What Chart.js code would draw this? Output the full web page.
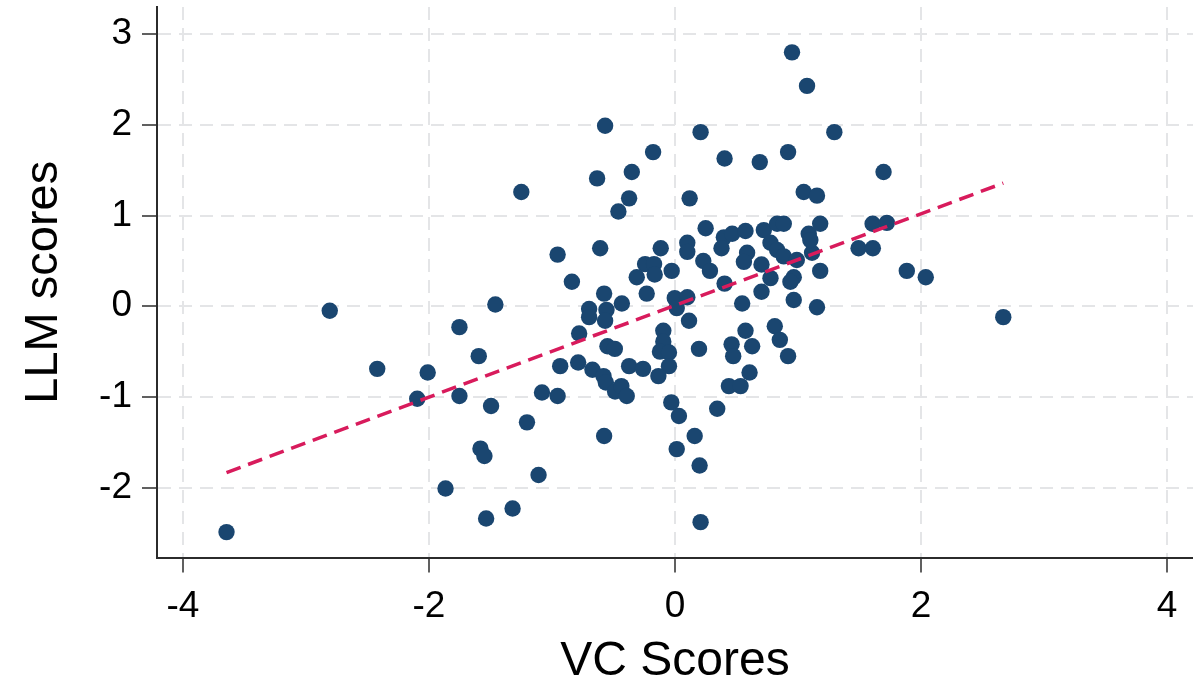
<!DOCTYPE html>
<html>
<head>
<meta charset="utf-8">
<script src="https://cdn.jsdelivr.net/npm/chart.js@4.4.1/dist/chart.umd.min.js"></script>
<style>
  html, body { margin: 0; padding: 0; background: #ffffff; }
  #wrap { width: 1193px; height: 686px; }
</style>
</head>
<body>
<div id="wrap"><canvas id="c" width="1193" height="686"></canvas></div>
<script>
const vcScores = [
  -3.645,-2.806,-2.42,-2.01,-2.095,-1.752,-1.752,-1.46,-1.595,-1.495,
  -1.203,-1.581,-1.549,-1.865,-1.535,-1.32,-1.109,-1.081,-0.954,-1.249,
  -0.954,-0.838,-0.779,-0.933,-0.787,-0.671,-0.581,-0.562,-0.487,-0.436,
  -0.392,-0.549,-0.489,-0.373,-0.26,-0.576,-0.698,-0.698,-0.557,-0.568,
  -0.576,-0.432,-0.23,-0.608,-0.568,-0.633,-0.351,-0.373,-0.46,-0.178,
  -0.243,-0.17,-0.165,-0.311,-0.116,-0.027,-0.095,-0.095,-0.122,-0.049,
  -0.049,-0.135,-0.002,0.10,0.014,0.114,-0.03,0.032,0.014,0.16,
  0.20,0.208,0.343,0.195,0.119,0.10,0.10,0.208,0.249,0.23,
  0.284,0.403,0.403,0.397,0.465,0.573,0.722,0.83,0.884,0.378,
  0.776,0.83,0.884,0.586,0.56,0.703,0.776,0.965,0.938,0.965,
  0.703,0.546,1.154,0.99,1.114,1.18,1.087,1.10,1.18,0.951,
  1.073,1.295,0.919,0.689,1.046,1.154,1.695,1.492,1.608,1.606,
  1.722,0.573,0.811,0.852,0.919,0.46,0.473,0.627,0.606,0.438,
  0.533,1.884,2.038,2.668
];
const llmScores = [
  -2.49,-0.05,-0.69,-0.73,-1.02,-0.23,-0.99,0.02,-0.55,-1.10,
  -1.28,-1.57,-1.65,-2.01,-2.34,-2.23,-1.86,-0.95,-0.99,1.26,
  0.57,0.27,-0.30,-0.66,-0.62,-0.70,-0.77,-0.84,-0.94,-0.88,
  -0.99,-0.44,-0.47,-0.66,-0.69,-1.43,-0.03,-0.12,-0.04,-0.16,
  0.14,0.03,0.14,0.64,1.99,1.41,1.48,1.19,1.045,1.70,
  0.465,0.465,0.35,0.32,0.64,0.39,-0.27,-0.39,-0.50,-0.51,
  -0.66,-0.77,0.09,0.10,-0.02,-0.16,-1.06,-1.21,-1.575,-1.43,
  -1.755,-2.38,-1.13,-0.47,1.19,0.70,0.60,1.92,0.86,0.50,
  0.39,0.25,1.63,0.76,0.80,0.83,0.84,0.91,0.91,0.64,
  0.70,0.62,0.55,0.59,0.49,0.46,0.31,0.32,0.27,0.07,
  0.16,0.03,-0.01,0.51,0.59,0.39,0.80,0.73,0.91,2.80,
  2.43,1.92,1.70,1.59,1.26,1.22,1.48,0.64,0.64,0.91,
  0.92,-0.27,-0.22,-0.37,-0.55,-0.42,-0.55,-0.44,-0.73,-0.88,
  -0.88,0.39,0.32,-0.12
];
const fitX = [-3.645, 2.668];
const fitY = [-1.833, 1.358];
const xTicks = [-4, -2, 0, 2, 4];
const yTicks = [-2, -1, 0, 1, 2, 3];

const points = vcScores.map((v, i) => ({ x: v, y: llmScores[i] }));
const fitLine = fitX.map((v, i) => ({ x: v, y: fitY[i] }));

const gridColor = '#e4e5e7';
const axisColor = '#2b2b2b';
const fontFamily = 'Liberation Sans, Arial, sans-serif';

function gridOpts() {
  return {
    color: gridColor,
    lineWidth: 2,
    drawTicks: true,
    tickLength: 15,
    tickColor: axisColor,
    tickWidth: 1.5,
    tickBorderDash: []
  };
}

new Chart(document.getElementById('c'), {
  type: 'scatter',
  data: {
    datasets: [
      {
        type: 'line',
        data: fitLine,
        borderColor: '#d81b5c',
        borderWidth: 3.5,
        borderDash: [15, 8],
        pointRadius: 0,
        fill: false,
        tension: 0
      },
      {
        data: points,
        backgroundColor: '#1a4670',
        borderWidth: 0,
        pointRadius: 8.2,
        pointHoverRadius: 8.2
      }
    ]
  },
  options: {
    responsive: false,
    animation: false,
    layout: { autoPadding: false, padding: { top: 7, right: 0, left: 0, bottom: 0 } },
    plugins: { legend: { display: false }, tooltip: { enabled: false } },
    scales: {
      x: {
        type: 'linear',
        min: -4.21,
        max: 4.21,
        afterBuildTicks: s => { s.ticks = xTicks.map(v => ({ value: v })); },
        afterFit: s => { s.height = 128.5; },
        grid: gridOpts(),
        border: { display: true, color: axisColor, width: 2, dash: [13, 8] },
        ticks: {
          color: '#000',
          padding: 12,
          font: { family: fontFamily, size: 37 },
          callback: v => String(v)
        },
        title: {
          display: true,
          text: 'VC Scores',
          color: '#000',
          font: { family: fontFamily, size: 48, lineHeight: 1 },
          padding: { top: 0, bottom: 0 }
        }
      },
      y: {
        type: 'linear',
        min: -2.77,
        max: 3.30,
        afterBuildTicks: s => { s.ticks = yTicks.map(v => ({ value: v })); },
        afterFit: s => { s.width = 157; s.paddingTop = 0; s.paddingBottom = 0; },
        grid: gridOpts(),
        border: { display: true, color: axisColor, width: 2, dash: [13, 8] },
        ticks: {
          color: '#000',
          padding: 10,
          font: { family: fontFamily, size: 37, lineHeight: 0.2 },
          callback: v => String(v)
        },
        title: {
          display: true,
          text: 'LLM scores',
          color: '#000',
          font: { family: fontFamily, size: 47, lineHeight: 1 },
          padding: { top: 21, bottom: 0 }
        }
      }
    }
  }
});
</script>
</body>
</html>
